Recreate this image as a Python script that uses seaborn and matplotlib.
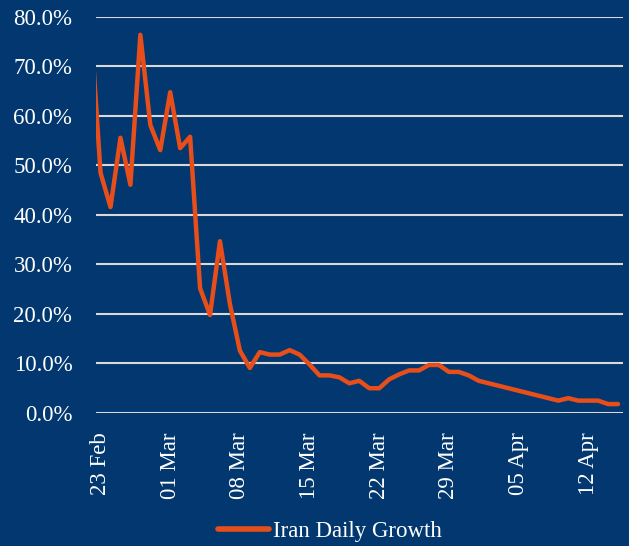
import numpy as np
import pandas as pd
import matplotlib
matplotlib.use("Agg")
from matplotlib import pyplot as plt
import matplotlib.dates as mdates
from matplotlib.ticker import FuncFormatter
import seaborn as sns

# daily dates, 22 Feb .. 15 Apr 2020
dates = pd.date_range("2020-02-22", "2020-04-15", freq="D")
growth_pct = [
    79.0,
    48.5, 41.6, 55.6, 46.1, 76.4, 58.2, 53.1, 64.8, 53.5, 55.8,
    25.2, 19.8, 34.7, 22.0, 12.6, 9.1, 12.3, 11.8, 11.8, 12.7,
    11.8, 9.8, 7.6, 7.6, 7.2, 6.0, 6.5, 5.0, 5.0, 6.8,
    7.8, 8.6, 8.6, 9.7, 9.7, 8.3, 8.3, 7.6, 6.5, 6.0,
    5.5, 5.0, 4.5, 4.0, 3.5, 3.0, 2.5, 3.0, 2.5, 2.5,
    2.5, 1.8, 1.8,
]
tick_dates = ["2020-02-23", "2020-03-01", "2020-03-08", "2020-03-15",
              "2020-03-22", "2020-03-29", "2020-04-05", "2020-04-12"]
series_name = "Iran Daily Growth"

bg = "#02386f"
line_col = "#e84e1a"
grid_col = "#d9d9d9"

df = pd.DataFrame({"Date": dates, "Growth": np.array(growth_pct) / 100.0})

sns.set_theme(style="white")
plt.rcParams["font.family"] = ["Liberation Serif", "DejaVu Serif"]
plt.rcParams["font.size"] = 16.5

fig = plt.figure(figsize=(6.29, 5.46), dpi=100, facecolor=bg)
ax = fig.add_axes([0.1526, 0.2436, 0.8379, 0.7253])
ax.set_facecolor(bg)

sns.lineplot(data=df, x="Date", y="Growth", ax=ax, color=line_col,
             linewidth=3.2, label=series_name, legend=False, zorder=3)

ax.set_ylim(0, 0.8)
ax.set_yticks(np.arange(0, 0.81, 0.1))
ax.yaxis.set_major_formatter(FuncFormatter(lambda v, p: f"{v * 100:.1f}%"))
ax.set_xlim(pd.Timestamp("2020-02-23") - pd.Timedelta(hours=11),
            pd.Timestamp("2020-04-15") + pd.Timedelta(hours=12))
ax.set_xticks(pd.to_datetime(tick_dates))
ax.xaxis.set_major_formatter(mdates.DateFormatter("%d %b"))

ax.grid(axis="y", color=grid_col, linewidth=1.5)
ax.grid(axis="x", visible=False)
for s in ax.spines.values():
    s.set_visible(False)
ax.tick_params(axis="both", length=0, colors="white", labelsize=16.5)
ax.tick_params(axis="y", pad=17)
ax.tick_params(axis="x", pad=14)
plt.setp(ax.get_xticklabels(), rotation=90, va="top", ha="center")
ax.set_xlabel("")
ax.set_ylabel("")

handles, labels = ax.get_legend_handles_labels()
leg = fig.legend(handles, labels, loc="center", bbox_to_anchor=(0.525, 0.026),
                 frameon=False, handlelength=2.2, handletextpad=0.2,
                 fontsize=16.5)
for t in leg.get_texts():
    t.set_color("white")
for h in leg.get_lines():
    h.set_linewidth(4)

fig.savefig("out.png", dpi=100, facecolor=bg)
